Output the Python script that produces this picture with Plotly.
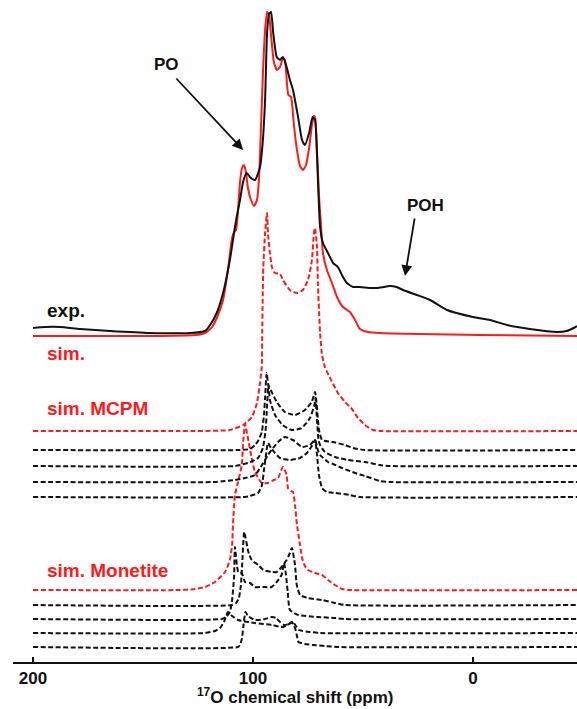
import plotly.graph_objects as go

# ---------------- data (ppm, intensity above own baseline) ----------------
exp_ppm = [200.0, 194.5, 187.7, 178.6, 165.0, 146.8, 128.6, 121.8, 119.5, 116.5, 113.6, 110.5, 108.2, 107.4,
           105.9, 104.5, 102.9, 101.4, 99.1, 96.8, 95.6, 94.5, 93.6, 92.7, 91.8, 90.8, 89.2, 87.7, 86.4, 84.7,
           83.2, 81.8, 79.5, 77.7, 76.4, 74.5, 72.9, 71.8, 70.9, 69.5, 68.2, 65.9, 63.6, 61.4, 59.1, 57.3,
           54.5, 51.4, 46.8, 43.6, 37.7, 34.7, 31.8, 25.5, 19.5, 11.8, 0.0, -7.7, -15.5, -25.9, -38.2, -42.7,
           -45.7, -47.3]
exp_int = [8, 9, 9, 7, 5, 3, 3, 5, 11, 23, 43, 76, 109, 119,
           136, 154, 163, 159, 156, 169, 193, 236, 303, 322, 324, 303, 279, 276, 279, 269,
           256, 246, 219, 196, 191, 203, 219, 216, 180, 109, 93, 83, 73, 69, 59, 53,
           49, 49, 48, 48, 50, 49, 46, 41, 36, 26, 19, 16, 11, 7, 4, 5,
           8, 10]

sim_ppm = [200.0, 146.8, 126.4, 121.8, 118.6, 115.9, 113.6, 111.4, 109.5, 108.6, 107.7, 106.8, 105.9, 105.0,
           104.1, 103.2, 102.3, 100.9, 99.5, 98.2, 97.3, 96.4, 95.5, 94.5, 93.6, 92.7, 91.8, 90.5, 89.1,
           87.7, 86.4, 85.5, 84.5, 83.9, 82.7, 81.4, 80.0, 78.6, 77.3, 75.9, 74.5, 73.2, 72.3, 71.8, 70.9,
           70.0, 69.1, 68.2, 66.4, 64.1, 61.8, 59.1, 55.9, 53.6, 51.4, 47.7, 42.3, 24.1, -3.2, -47.3]
sim_int = [0, 0, 1, 3, 9, 21, 36, 66, 98, 104, 106, 126, 154, 168,
           171, 164, 148, 136, 130, 136, 156, 206, 261, 306, 324, 321, 301, 274, 266,
           269, 278, 276, 251, 241, 239, 211, 186, 170, 166, 171, 188, 211, 220, 219, 186,
           141, 111, 83, 66, 53, 39, 29, 24, 16, 7, 4, 3, 2, 1, 0]

mcpm_ppm = [200.0, 133.2, 110.5, 104.5, 100.5, 98.2, 96.8, 96.0, 95.8, 95.6, 95.3, 94.5, 93.6, 93.2, 92.3,
            91.4, 90.0, 87.7, 86.4, 83.2, 80.0, 77.3, 75.0, 73.2, 72.3, 71.8, 70.9, 70.5, 69.5, 68.6, 67.3,
            64.5, 61.4, 58.2, 55.0, 52.3, 49.1, 45.5, 42.3, -47.3]
mcpm_int = [0, 0, 1, 6, 14, 28, 48, 64, 98, 131, 164, 198, 218, 198, 178,
            164, 158, 157, 151, 141, 138, 141, 151, 171, 198, 203, 184, 148, 98, 76, 64,
            51, 38, 29, 22, 13, 6, 1, 0, 0]

c1_ppm = [200.0, 105.9, 101.4, 99.1, 97.7, 96.0, 95.0, 94.5, 93.8, 93.0, 91.5, 89.2, 85.5, 80.9, 76.4,
          73.3, 71.8, 70.9, 70.0, 68.6, 63.6, 58.2, 54.5, 49.1, -47.3]
c1_int = [0, 0, 1, 5, 9, 18, 35, 52, 77, 65, 58, 48, 38, 35, 40,
          48, 58, 42, 20, 10, 8, 5, 2, 0, 0]

c2_ppm = [200.0, 108.2, 102.3, 97.7, 95.5, 94.3, 93.8, 93.0, 92.3, 90.0, 86.5, 82.4, 77.9, 74.1, 72.1,
          71.6, 70.9, 70.2, 69.5, 67.3, 62.7, 56.8, 49.1, 42.3, 37.7, -47.3]
c2_int = [0, 0, 3, 8, 18, 35, 51, 81, 66, 51, 41, 36, 38, 48, 61,
          68, 45, 26, 21, 14, 9, 6, 4, 1, 0, 0]

c3_ppm = [200.0, 117.3, 112.7, 108.2, 103.6, 99.1, 95.9, 93.2, 90.9, 88.6, 85.5, 81.8, 77.7, 74.1, 71.8,
          70.5, 69.5, 65.9, 63.6, 59.5, 53.6, 49.1, 42.3, 37.7, -47.3]
c3_int = [0, 0, 1, 2, 4, 7, 17, 27, 34, 40, 45, 42, 35, 37, 42,
          32, 27, 20, 18, 14, 9, 6, 1, 0, 0]

c4_ppm = [200.0, 103.6, 101.4, 97.7, 95.9, 95.0, 94.1, 93.2, 91.8, 90.0, 87.7, 83.2, 78.6, 75.5, 73.2,
          71.8, 70.9, 70.0, 68.6, 66.4, 62.7, 55.9, 51.4, -47.3]
c4_int = [0, 0, 1, 4, 12, 27, 42, 54, 49, 44, 39, 37, 39, 44, 51,
          57, 42, 22, 9, 5, 4, 2, 0, 0]

mon_ppm = [200.0, 133.2, 126.4, 121.8, 117.3, 112.7, 110.5, 109.5, 109.1, 108.2, 106.8, 105.1, 104.5, 103.6,
           103.0, 102.3, 100.6, 99.1, 96.0, 93.2, 90.5, 88.6, 86.4, 84.7, 84.1, 82.7, 81.8, 80.9, 80.0,
           78.6, 77.7, 76.4, 75.0, 71.8, 68.6, 65.9, 62.7, 59.5, 55.9, -47.3]
mon_int = [0, 0, 1, 3, 8, 18, 30, 45, 65, 95, 108, 125, 148, 166,
           160, 152, 132, 118, 107, 107, 110, 112, 123, 115, 102, 99, 98, 85, 65,
           45, 32, 24, 20, 17, 15, 10, 5, 1, 0, 0]

m1_ppm = [200.0, 109.5, 107.7, 106.4, 105.5, 104.8, 104.0, 102.1, 100.6, 97.6, 95.3, 91.5, 89.2, 87.0, 84.7,
          83.6, 82.3, 80.9, 80.1, 78.6, 75.0, 68.6, 62.7, 58.2, -47.3]
m1_int = [0, 0, 2, 7, 20, 45, 73, 53, 45, 40, 35, 33, 33, 38, 45,
          50, 57, 40, 20, 10, 7, 5, 2, 0, 0]

m2_ppm = [200.0, 114.1, 112.3, 110.5, 109.5, 108.6, 108.2, 106.7, 105.1, 103.6, 101.4, 99.1, 95.3, 91.5, 89.2,
          87.0, 85.9, 85.0, 84.2, 83.2, 79.4, 70.5, 62.7, 58.2, -47.3]
m2_int = [0, 0, 2, 7, 19, 42, 72, 47, 46, 37, 36, 32, 32, 32, 37,
          44, 56, 44, 27, 9, 4, 2, 1, 0, 0]

m3_ppm = [200.0, 121.8, 117.3, 115.0, 113.2, 111.4, 109.5, 106.8, 99.1, 91.4, 86.4, 83.6, 81.8, 80.5, 79.1,
          74.1, 69.5, -47.3]
m3_int = [0, 0, 2, 5, 11, 21, 17, 13, 10, 8, 6, 9, 11, 7, 3,
          1, 0, 0]

m4_ppm = [200.0, 106.8, 105.9, 105.0, 104.3, 103.4, 102.3, 99.1, 94.5, 91.4, 89.5, 87.7, 85.9, 83.6, 82.3,
          80.9, 80.0, 79.3, 76.4, 72.7, 67.3, 61.8, -47.3]
m4_int = [0, 0, 2, 9, 22, 35, 31, 27, 28, 30, 29, 25, 22, 23, 25,
          19, 11, 5, 3, 2, 1, 0, 0]

# stacking offsets (same units as intensity)
offsets = {"exp": 326, "sim": 326, "mcpm": 231, "c1": 212, "c2": 196, "c3": 180, "c4": 165,
           "mon": 72, "m1": 57, "m2": 43, "m3": 29, "m4": 15}

tick_vals = [200, 100, 0]
tick_text = ["200", "100", "0"]

RED = "#ff1a1a"
BLACK = "#111111"
FONT = "Liberation Sans, Arial, sans-serif"
DASH = "5px,2.5px"

fig = go.Figure()


def add(ppm, inten, key, color, dash=None, width=2.0):
    off = offsets[key]
    fig.add_trace(go.Scatter(
        x=ppm, y=[v + off for v in inten], mode="lines",
        line=dict(color=color, width=width, dash=dash, shape="spline", smoothing=0.5),
        hoverinfo="skip", showlegend=False))


# Monetite components (bottom)
for p, i, k in [(m4_ppm, m4_int, "m4"), (m3_ppm, m3_int, "m3"), (m2_ppm, m2_int, "m2"), (m1_ppm, m1_int, "m1")]:
    add(p, i, k, BLACK, DASH)
add(mon_ppm, mon_int, "mon", RED, DASH)
# MCPM components
for p, i, k in [(c4_ppm, c4_int, "c4"), (c3_ppm, c3_int, "c3"), (c2_ppm, c2_int, "c2"), (c1_ppm, c1_int, "c1")]:
    add(p, i, k, BLACK, DASH)
add(mcpm_ppm, mcpm_int, "mcpm", RED, DASH)
add(sim_ppm, sim_int, "sim", RED, None, 2.0)
add(exp_ppm, exp_int, "exp", BLACK, None, 2.0)

labels = [
    ("exp.", 194.5, 352, BLACK),
    ("sim.", 194.5, 309, RED),
    ("sim. MCPM", 194.5, 254, RED),
    ("sim. Monetite", 194.5, 92, RED),
]
for txt, x, y, col in labels:
    fig.add_annotation(x=x, y=y, text=txt, showarrow=False, xanchor="left", yanchor="middle",
                       font=dict(family=FONT, size=19, color=col, weight="bold"))

fig.add_annotation(x=139.5, y=598, text="PO", showarrow=False, xanchor="center", yanchor="middle",
                   font=dict(family=FONT, size=17, color=BLACK, weight="bold"))
fig.add_annotation(x=21.4, y=457, text="POH", showarrow=False, xanchor="center", yanchor="middle",
                   font=dict(family=FONT, size=17, color=BLACK, weight="bold"))
# arrows
fig.add_annotation(x=104.5, y=512, ax=135.5, ay=585, xref="x", yref="y", axref="x", ayref="y",
                   text="", showarrow=True, arrowhead=2, arrowsize=1.2, arrowwidth=1.8, arrowcolor=BLACK)
fig.add_annotation(x=30.9, y=386, ax=26.4, ay=445, xref="x", yref="y", axref="x", ayref="y",
                   text="", showarrow=True, arrowhead=2, arrowsize=1.2, arrowwidth=1.8, arrowcolor=BLACK)

# axis title
fig.add_annotation(x=0.5, y=-46 / 662, xref="paper", yref="paper", showarrow=False,
                   text="<sup>17</sup>O chemical shift (ppm)", xanchor="center", yanchor="bottom",
                   borderpad=0,
                   font=dict(family=FONT, size=17, color=BLACK, weight="bold"))

fig.update_layout(
    width=577, height=709,
    margin=dict(l=13, r=0, t=0, b=47),
    paper_bgcolor="white", plot_bgcolor="white",
    xaxis=dict(range=[209.1, -47.3], tickvals=tick_vals, ticktext=tick_text, ticks="inside",
               ticklen=5, tickwidth=2, tickcolor=BLACK, showline=True, linecolor=BLACK, linewidth=2,
               showgrid=False, zeroline=False,
               tickfont=dict(family=FONT, size=17, color=BLACK, weight="bold")),
    yaxis=dict(range=[0, 662], visible=False, showgrid=False, zeroline=False),
)

fig.write_html("out.html", config={"displayModeBar": False},
               post_script="document.body.style.margin='0px';document.body.style.overflow='hidden';")
